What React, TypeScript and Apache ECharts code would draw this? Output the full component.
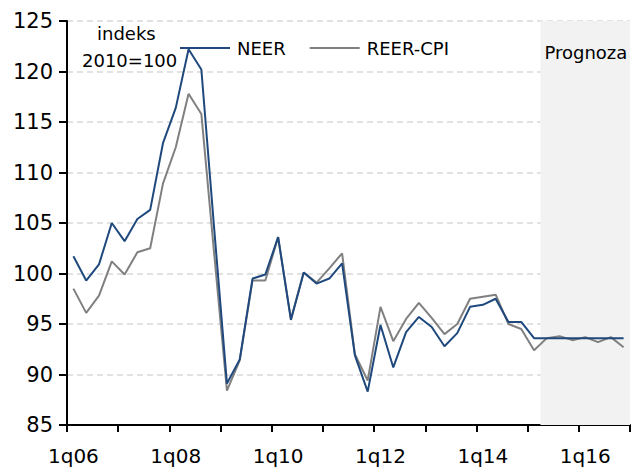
import React, { useEffect, useRef } from "react";
import * as echarts from "echarts";

const categories = [
  "1q06", "2q06", "3q06", "4q06", "1q07", "2q07", "3q07", "4q07",
  "1q08", "2q08", "3q08", "4q08", "1q09", "2q09", "3q09", "4q09",
  "1q10", "2q10", "3q10", "4q10", "1q11", "2q11", "3q11", "4q11",
  "1q12", "2q12", "3q12", "4q12", "1q13", "2q13", "3q13", "4q13",
  "1q14", "2q14", "3q14", "4q14", "1q15", "2q15", "3q15", "4q15",
  "1q16", "2q16", "3q16", "4q16",
];

const neer = [
  101.7, 99.3, 100.9, 105.0, 103.2, 105.4, 106.3, 112.9, 116.4, 122.2, 120.2,
  104.5, 89.1, 91.5, 99.5, 99.9, 103.6, 95.4, 100.1, 99.0, 99.5, 101.0, 91.9,
  88.3, 94.9, 90.7, 94.2, 95.7, 94.7, 92.8, 94.1, 96.7, 96.9, 97.5, 95.2, 95.2,
  93.6, 93.6, 93.6, 93.6, 93.6, 93.6, 93.6, 93.6,
];

const reerCpi = [
  98.5, 96.1, 97.8, 101.2, 99.9, 102.1, 102.5, 108.9, 112.5, 117.8, 115.8,
  102.0, 88.4, 91.4, 99.3, 99.3, 103.6, 95.5, 100.1, 99.1, 100.5, 102.0, 92.0,
  89.4, 96.7, 93.3, 95.5, 97.1, 95.6, 94.0, 95.0, 97.5, 97.7, 97.9, 95.0, 94.5,
  92.4, 93.6, 93.8, 93.4, 93.7, 93.2, 93.7, 92.7,
];

// forecast band, in category-boundary units (start of 2q15 to end of 4q16)
const forecastStart = 37;
const forecastEnd = 44;

const seriesNames = ["NEER", "REER-CPI"];
const yMin = 85;
const yMax = 125;
const yStep = 5;

const FONT = "'DejaVu Sans', 'Liberation Sans', sans-serif";

export default function App() {
  const ref = useRef<HTMLDivElement>(null);

  useEffect(() => {
    if (!ref.current) return;
    const chart = echarts.init(ref.current, undefined, { renderer: "svg" });
    chart.setOption({
      animation: false,
      textStyle: { fontFamily: FONT, color: "#000" },
      grid: { left: 67, right: 5, top: 21, bottom: 49, containLabel: false },
      legend: {
        data: seriesNames,
        left: 180,
        top: 39,
        padding: 0,
        icon: "rect",
        itemWidth: 50,
        itemHeight: 2,
        itemGap: 24,
        textStyle: { fontFamily: FONT, fontSize: 18, color: "#000", padding: [0, 0, 0, 2] },
      },
      graphic: [
        {
          type: "text",
          left: 97,
          top: 24,
          style: { text: "indeks", font: `18px ${FONT}`, fill: "#000" },
        },
        {
          type: "text",
          left: 82,
          top: 51,
          style: { text: "2010=100", font: `18px ${FONT}`, fill: "#000" },
        },
      ],
      xAxis: [
        {
          type: "category",
          data: categories,
          boundaryGap: true,
          axisLine: { onZero: false, lineStyle: { color: "#000", width: 2 } },
          axisTick: {
            show: true,
            interval: 3,
            length: 7,
            lineStyle: { color: "#000", width: 2 },
          },
          axisLabel: {
            interval: 7,
            fontSize: 20,
            fontFamily: FONT,
            color: "#000",
            margin: 21,
          },
          splitLine: { show: false },
        },
        {
          type: "value",
          min: 0,
          max: 44,
          show: false,
          splitLine: { show: false },
        },
      ],
      yAxis: {
        type: "value",
        min: yMin,
        max: yMax,
        interval: yStep,
        axisLine: { show: true, lineStyle: { color: "#000", width: 2 } },
        axisTick: {
          show: true,
          length: 8,
          lineStyle: { color: "#000", width: 2 },
        },
        axisLabel: {
          fontSize: 21,
          fontFamily: FONT,
          color: "#000",
          margin: 14,
        },
        splitLine: {
          show: true,
          lineStyle: { color: "#D9D9D9", width: 1.5, type: [6, 4] },
        },
      },
      series: [
        {
          name: "forecast",
          type: "line",
          xAxisIndex: 1,
          data: [[forecastStart, yMin]],
          symbol: "none",
          lineStyle: { opacity: 0 },
          silent: true,
          z: 1,
          markArea: {
            silent: true,
            itemStyle: { color: "#F2F2F2" },
            label: {
              show: true,
              position: "insideTopLeft",
              distance: 4,
              offset: [0, 18],
              fontFamily: FONT,
              fontSize: 18,
              color: "#000",
            },
            data: [
              [
                { name: "Prognoza", xAxis: forecastStart },
                { xAxis: forecastEnd },
              ],
            ],
          },
        },
        {
          name: seriesNames[1],
          type: "line",
          data: reerCpi,
          symbol: "none",
          lineStyle: { color: "#808080", width: 2 },
          itemStyle: { color: "#808080" },
          z: 3,
        },
        {
          name: seriesNames[0],
          type: "line",
          data: neer,
          symbol: "none",
          lineStyle: { color: "#1F497D", width: 2 },
          itemStyle: { color: "#1F497D" },
          z: 4,
        },
      ],
    });
    return () => chart.dispose();
  }, []);

  return (
    <div
      ref={ref}
      style={{ position: "absolute", left: 0, top: 0, width: 635, height: 474 }}
    />
  );
}
